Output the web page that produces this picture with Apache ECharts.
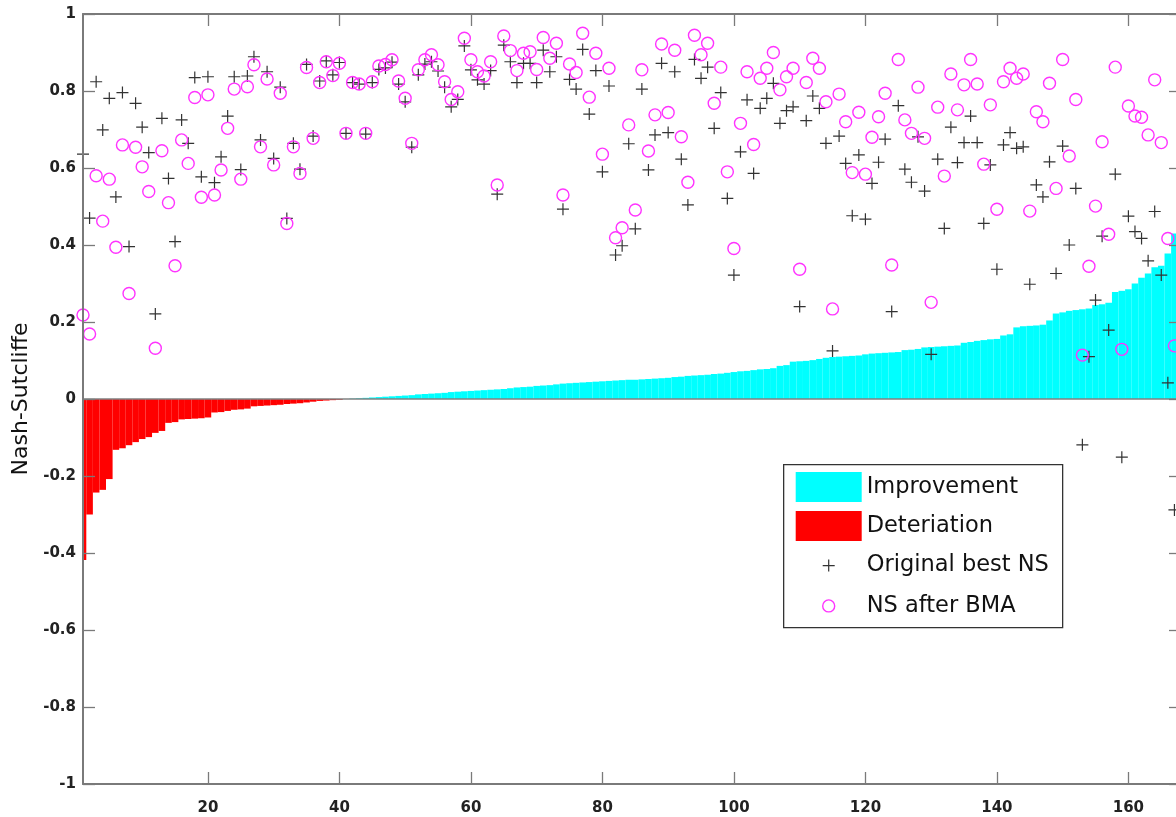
<!DOCTYPE html>
<html>
<head>
<meta charset="utf-8">
<script src="https://cdn.jsdelivr.net/npm/echarts@6.0.0/dist/echarts.min.js"></script>
<style>
  html, body { margin: 0; padding: 0; background: #fff; }
  #chart { width: 1176px; height: 817px; }
</style>
</head>
<body>
<div id="chart"></div>
<script>
// Improvement of NS after BMA, sorted ascending (bars)
const improvement = [-0.418,-0.300,-0.243,-0.236,-0.208,-0.132,-0.128,-0.120,-0.112,-0.104,
-0.099,-0.088,-0.083,-0.062,-0.060,-0.053,-0.052,-0.051,-0.050,-0.048,
-0.035,-0.034,-0.031,-0.028,-0.027,-0.025,-0.019,-0.018,-0.017,-0.016,
-0.015,-0.013,-0.012,-0.011,-0.009,-0.007,-0.005,-0.004,-0.003,-0.002,
0.000,0.001,0.002,0.003,0.004,0.005,0.006,0.007,0.008,0.009,
0.010,0.012,0.013,0.014,0.015,0.016,0.018,0.019,0.020,0.021,
0.022,0.023,0.024,0.025,0.026,0.028,0.030,0.031,0.032,0.034,
0.035,0.036,0.038,0.040,0.041,0.042,0.043,0.044,0.045,0.046,
0.047,0.048,0.049,0.050,0.050,0.051,0.052,0.053,0.054,0.055,
0.057,0.058,0.060,0.061,0.062,0.063,0.065,0.066,0.068,0.070,
0.072,0.073,0.075,0.077,0.078,0.080,0.086,0.088,0.097,0.098,
0.099,0.101,0.104,0.107,0.109,0.110,0.111,0.112,0.113,0.116,
0.118,0.119,0.120,0.121,0.122,0.127,0.128,0.130,0.134,0.135,
0.136,0.137,0.138,0.139,0.146,0.148,0.151,0.153,0.155,0.156,
0.165,0.168,0.186,0.189,0.190,0.191,0.193,0.204,0.222,0.225,
0.229,0.231,0.233,0.235,0.244,0.246,0.250,0.278,0.281,0.285,
0.300,0.315,0.326,0.342,0.346,0.378,0.430];

// Original best NS (+)
const originalNS = [0.636,0.470,0.824,0.699,0.781,0.525,0.796,0.396,0.768,0.706,
0.640,0.221,0.729,0.573,0.409,0.725,0.664,0.835,0.577,0.837,
0.562,0.629,0.735,0.837,0.596,0.839,0.889,0.673,0.850,0.625,
0.810,0.469,0.664,0.597,0.869,0.683,0.826,0.878,0.842,0.874,
0.690,0.822,0.818,0.688,0.822,0.856,0.860,0.875,0.818,0.772,
0.654,0.842,0.870,0.876,0.852,0.810,0.759,0.778,0.917,0.855,
0.829,0.818,0.853,0.532,0.919,0.876,0.822,0.872,0.872,0.822,
0.906,0.850,0.889,0.493,0.830,0.805,0.908,0.740,0.853,0.590,
0.813,0.374,0.398,0.663,0.442,0.805,0.595,0.686,0.872,0.692,
0.850,0.623,0.504,0.882,0.833,0.862,0.703,0.796,0.521,0.322,
0.642,0.777,0.586,0.755,0.781,0.820,0.716,0.749,0.759,0.240,
0.723,0.787,0.755,0.664,0.125,0.683,0.612,0.476,0.634,0.467,
0.560,0.615,0.675,0.227,0.762,0.597,0.563,0.681,0.540,0.116,
0.623,0.443,0.706,0.614,0.666,0.735,0.666,0.456,0.608,0.337,
0.660,0.692,0.651,0.655,0.298,0.556,0.525,0.616,0.326,0.657,
0.400,0.547,-0.119,0.110,0.257,0.423,0.179,0.584,-0.151,0.475,
0.435,0.417,0.359,0.487,0.322,0.042,-0.288];

// NS after BMA (o)
const afterBMA = [0.218,0.169,0.580,0.462,0.571,0.394,0.660,0.274,0.654,0.603,
0.539,0.132,0.645,0.510,0.346,0.673,0.612,0.783,0.524,0.790,
0.530,0.595,0.703,0.805,0.571,0.811,0.868,0.655,0.831,0.608,
0.794,0.456,0.655,0.586,0.861,0.677,0.822,0.876,0.840,0.872,
0.690,0.822,0.818,0.690,0.824,0.865,0.869,0.881,0.826,0.781,
0.664,0.855,0.881,0.894,0.868,0.824,0.778,0.798,0.937,0.881,
0.850,0.839,0.876,0.556,0.943,0.905,0.853,0.898,0.902,0.856,
0.939,0.885,0.924,0.530,0.870,0.848,0.950,0.784,0.898,0.636,
0.859,0.419,0.445,0.712,0.491,0.855,0.644,0.738,0.922,0.744,
0.906,0.681,0.563,0.945,0.894,0.924,0.768,0.862,0.590,0.391,
0.716,0.850,0.661,0.833,0.859,0.900,0.803,0.837,0.859,0.337,
0.822,0.885,0.859,0.772,0.234,0.792,0.720,0.588,0.745,0.584,
0.680,0.733,0.794,0.348,0.882,0.725,0.690,0.810,0.677,0.251,
0.758,0.579,0.844,0.751,0.816,0.882,0.818,0.610,0.764,0.493,
0.824,0.859,0.833,0.844,0.488,0.746,0.720,0.820,0.547,0.882,
0.631,0.778,0.114,0.345,0.501,0.668,0.428,0.862,0.129,0.761,
0.735,0.732,0.686,0.829,0.666,0.417,0.138];

const xTicks = [20, 40, 60, 80, 100, 120, 140, 160];
const xMin = 1, xMax = 168;
const legendNames = ['Improvement', 'Deteriation', 'Original best NS', 'NS after BMA'];
const yAxisTitle = 'Nash-Sutcliffe';

const idx = improvement.map((_, k) => k + 1);
const posData = idx.map((x, k) => [x, improvement[k] > 0 ? improvement[k] : null]);
const negData = idx.map((x, k) => [x, improvement[k] < 0 ? improvement[k] : null]);
const origData = idx.map((x, k) => [x, originalNS[k]]);
const afterData = idx.map((x, k) => [x, afterBMA[k]]);

const FONT = 'DejaVu Sans';
const AXIS_GRAY = '#7a7a7a';
const PLUS = 'path://M0,6H12M6,0V12';
const PLUS_ICON = 'path://M0,0M66,30M27,15H39M33,9V21';
const CIRC_ICON = 'path://M0,0M66,30M39,15A6,6 0 1 1 27,15A6,6 0 1 1 39,15Z';

const chart = echarts.init(document.getElementById('chart'), null, { renderer: 'canvas' });

const tickCommon = { show: true, inside: true, length: 12, lineStyle: { color: AXIS_GRAY, width: 1.3 } };
const tickLabel = { fontFamily: FONT, fontSize: 15, fontWeight: 'bold', color: '#222' };

chart.setOption({
  animation: false,
  backgroundColor: '#fff',
  grid: { left: 83, top: 14, right: -5, bottom: 33, containLabel: false, outerBoundsMode: 'none' },
  xAxis: [
    {
      type: 'value', position: 'bottom', min: xMin, max: xMax, z: 10,
      axisLine: { show: true, onZero: false, lineStyle: { color: AXIS_GRAY, width: 2 } },
      axisTick: Object.assign({ customValues: xTicks }, tickCommon),
      axisLabel: Object.assign({ customValues: xTicks, margin: 17 }, tickLabel),
      splitLine: { show: false }
    },
    {
      type: 'value', position: 'top', min: xMin, max: xMax, z: 10,
      axisLine: { show: true, onZero: false, lineStyle: { color: AXIS_GRAY, width: 2 } },
      axisTick: Object.assign({ customValues: xTicks }, tickCommon),
      axisLabel: { show: false, customValues: xTicks },
      splitLine: { show: false }
    }
  ],
  yAxis: [
    {
      type: 'value', position: 'left', min: -1, max: 1, interval: 0.2, z: 10,
      name: yAxisTitle, nameLocation: 'middle', nameRotate: 90, nameGap: 49,
      nameTextStyle: { fontFamily: FONT, fontSize: 22, color: '#111' },
      axisLine: { show: true, onZero: false, lineStyle: { color: AXIS_GRAY, width: 2 } },
      axisTick: tickCommon,
      axisLabel: Object.assign({ margin: 7 }, tickLabel),
      splitLine: { show: false }
    },
    {
      type: 'value', position: 'right', min: -1, max: 1, interval: 0.2, z: 10,
      axisLine: { show: true, onZero: false, lineStyle: { color: AXIS_GRAY, width: 2 } },
      axisTick: tickCommon,
      axisLabel: { show: false },
      splitLine: { show: false }
    }
  ],
  legend: {
    orient: 'vertical', left: 795, top: 472, padding: 0, itemGap: 9,
    itemWidth: 66, itemHeight: 30, selectedMode: false, z: 12,
    textStyle: { fontFamily: FONT, fontSize: 22.5, color: '#111', lineHeight: 30 },
    data: [
      { name: legendNames[0], icon: 'rect' },
      { name: legendNames[1], icon: 'rect' },
      { name: legendNames[2], icon: PLUS_ICON, itemStyle: { color: 'rgba(0,0,0,0)', borderColor: '#333', borderWidth: 1.2 } },
      { name: legendNames[3], icon: CIRC_ICON, itemStyle: { color: 'rgba(0,0,0,0)', borderColor: '#ff33ff', borderWidth: 1.4 } }
    ]
  },
  graphic: [
    {
      // hides the part of the first bar that falls left of the axis (bars are clipped in the original)
      type: 'rect', left: 72, top: 399, z: 3, silent: true,
      shape: { width: 10, height: 175 },
      style: { fill: '#fff' }
    },
    {
      type: 'rect', left: 783, top: 464, z: 11,
      shape: { width: 279, height: 163 },
      style: { fill: '#fff', stroke: '#333', lineWidth: 1.3 }
    }
  ],
  series: [
    {
      name: legendNames[0], type: 'bar', stack: 'ns', data: posData, barWidth: 6.6,
      itemStyle: { color: '#00ffff' }, clip: true, z: 2,
      markLine: {
        silent: true, symbol: 'none', label: { show: false },
        lineStyle: { color: '#808080', width: 1.5, type: 'solid' },
        data: [{ yAxis: 0 }]
      }
    },
    {
      name: legendNames[1], type: 'bar', stack: 'ns', data: negData, barWidth: 6.6,
      itemStyle: { color: '#ff0000' }, clip: true, z: 2
    },
    {
      name: legendNames[2], type: 'scatter', data: origData, symbol: PLUS, symbolSize: 12,
      clip: false, z: 4,
      itemStyle: { color: 'rgba(0,0,0,0)', borderColor: '#333', borderWidth: 1.2, opacity: 1 }
    },
    {
      name: legendNames[3], type: 'scatter', data: afterData, symbol: 'circle', symbolSize: 12,
      clip: false, z: 5,
      itemStyle: { color: 'rgba(0,0,0,0)', borderColor: '#ff33ff', borderWidth: 1.4, opacity: 1 }
    }
  ]
});
</script>
</body>
</html>
